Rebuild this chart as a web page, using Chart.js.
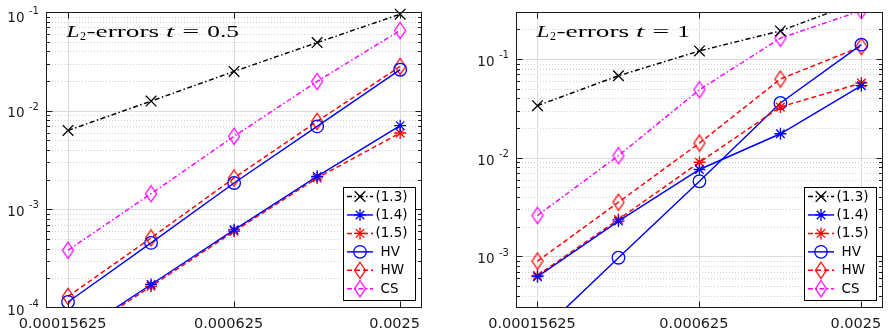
<!DOCTYPE html>
<html><head><meta charset="utf-8">
<script src="https://cdn.jsdelivr.net/npm/chart.js@4/dist/chart.umd.min.js"></script>
<style>
html,body{margin:0;padding:0;background:#fff;width:895px;height:336px;overflow:hidden}
#w1{position:absolute;left:0;top:0;width:445px;height:336px}
#w2{position:absolute;left:445px;top:0;width:450px;height:336px}
</style></head><body>
<div id="w1"><canvas id="c1" width="445" height="336"></canvas></div>
<div id="w2"><canvas id="c2" width="450" height="336"></canvas></div>
<script>
// ---- data ----
const hValues = [0.00015625, 0.0003125, 0.000625, 0.00125, 0.0025];
const xTickValues = [0.00015625, 0.000625, 0.0025];
const xTickLabels = ['0.00015625', '0.000625', '0.0025'];
const seriesNames = ['(1.3)', '(1.4)', '(1.5)', 'HV', 'HW', 'CS'];

// t = 0.5
const errT05_13 = [6.3e-3, 1.25e-2, 2.5e-2, 4.9e-2, 9.5e-2];
const errT05_14 = [4.8e-5, 1.73e-4, 6.2e-4, 2.16e-3, 7.05e-3];
const errT05_15 = [4.6e-5, 1.66e-4, 5.98e-4, 2.08e-3, 5.94e-3];
const errT05_HV = [1.15e-4, 4.57e-4, 1.85e-3, 6.93e-3, 2.6e-2];
const errT05_HW = [1.31e-4, 5.13e-4, 2.08e-3, 7.8e-3, 2.81e-2];
const errT05_CS = [3.85e-4, 1.44e-3, 5.5e-3, 1.98e-2, 6.5e-2];

// t = 1
const errT1_13 = [3.37e-2, 6.78e-2, 1.21e-1, 1.93e-1, 3.9e-1];
const errT1_14 = [6.23e-4, 2.28e-3, 7.6e-3, 1.75e-2, 5.37e-2];
const errT1_15 = [6.42e-4, 2.37e-3, 9.0e-3, 3.27e-2, 5.72e-2];
const errT1_HV = [1.6e-4, 9.7e-4, 5.78e-3, 3.59e-2, 1.40e-1];
const errT1_HW = [8.96e-4, 3.54e-3, 1.41e-2, 6.28e-2, 1.34e-1];
const errT1_CS = [2.6e-3, 1.05e-2, 4.89e-2, 1.63e-1, 3.1e-1];

const yTickValuesLeft = [1e-4, 1e-3, 1e-2, 1e-1];
const yTickExpLeft = ['-4', '-3', '-2', '-1'];
const yTickValuesRight = [1e-3, 1e-2, 1e-1];
const yTickExpRight = ['-3', '-2', '-1'];
const titleValues = ['0.5', '1'];

// ---- styles ----
function makeDiamond(color) {
  const c = document.createElement('canvas'); c.width = 14; c.height = 19;
  const g = c.getContext('2d'); g.strokeStyle = color; g.lineWidth = 1.3;
  g.beginPath(); g.moveTo(7, 1.5); g.lineTo(12.5, 9.5); g.lineTo(7, 17.5); g.lineTo(1.5, 9.5); g.closePath(); g.stroke();
  return c;
}
const BLUE = '#0000ff', RED = '#ff0000', MAG = '#ff00ff', BLK = '#000000';
const DASHDOT = [5, 2.5, 1.5, 2.5], DASH = [5, 3];
const LW = 1.45;
const seriesStyles = [
  {color: BLK, dash: DASHDOT, point: 'crossRot', r: 7.5},
  {color: BLUE, dash: [], point: 'star', r: 6},
  {color: RED, dash: DASH, point: 'star', r: 6},
  {color: BLUE, dash: [], point: 'circle', r: 6.3},
  {color: RED, dash: DASH, point: makeDiamond(RED), r: 8},
  {color: MAG, dash: DASHDOT, point: makeDiamond(MAG), r: 8}
];

function buildDatasets(vals, clip) {
  return seriesNames.map((name, i) => {
    const s = seriesStyles[i];
    return {
      label: name,
      data: hValues.map((h, j) => ({x: h, y: vals[i][j]})),
      borderColor: s.color, backgroundColor: 'rgba(0,0,0,0)',
      borderWidth: LW, borderDash: s.dash, tension: 0,
      pointStyle: s.point, pointRadius: s.r, pointHoverRadius: s.r,
      pointBorderColor: s.color, pointBackgroundColor: 'rgba(0,0,0,0)', pointBorderWidth: 1.3,
      clip: clip
    };
  });
}

function drawMarker(ctx, style, x, y, r, color) {
  ctx.save();
  ctx.strokeStyle = color; ctx.lineWidth = 1.3; ctx.setLineDash([]);
  ctx.beginPath();
  if (typeof style === 'object') {
    ctx.drawImage(style, x - style.width / 2, y - style.height / 2);
  } else if (style === 'circle') {
    ctx.arc(x, y, r, 0, Math.PI * 2);
  } else {
    const d = Math.SQRT1_2 * r;
    if (style === 'star') {
      ctx.moveTo(x - r, y); ctx.lineTo(x + r, y);
      ctx.moveTo(x, y - r); ctx.lineTo(x, y + r);
    }
    ctx.moveTo(x - d, y - d); ctx.lineTo(x + d, y + d);
    ctx.moveTo(x + d, y - d); ctx.lineTo(x - d, y + d);
  }
  ctx.stroke();
  ctx.restore();
}

function drawTitle(ctx, left, baseline, val) {
  const F = '"Liberation Serif", "DejaVu Serif", serif';
  const segs = [
    {t: 'L', f: 'italic 17.5px ' + F, x: 0, w: 13, dy: 0},
    {t: '2', f: '12px ' + F, x: 13.4, w: 6, dy: 3},
    {t: '-errors', f: '17.5px ' + F, x: 20, w: 72.7, dy: 0},
    {t: 't', f: 'italic 17.5px ' + F, x: 99.4, w: 8.3, dy: 0},
    {t: '=', f: '17.5px ' + F, x: 115.7, w: 17, dy: -0.5},
    {t: val, f: '17.5px ' + F, x: 140.7, w: null, dy: 0}
  ];
  ctx.save();
  ctx.fillStyle = '#000'; ctx.textBaseline = 'alphabetic'; ctx.textAlign = 'left';
  segs.forEach(s => {
    ctx.font = s.f;
    const m = ctx.measureText(s.t).width;
    const sx = s.w ? s.w / m : 1.45;
    ctx.save();
    ctx.translate(left + s.x, baseline + s.dy);
    ctx.scale(sx, 1);
    ctx.fillText(s.t, 0, 0);
    ctx.restore();
  });
  ctx.restore();
}

const decor = {
  id: 'decor',
  beforeDatasetsDraw(chart, args, o) {
    const {ctx, chartArea: a} = chart;
    const x = chart.scales.x, y = chart.scales.y;
    ctx.save();
    ctx.lineWidth = 1;
    const lo = Math.floor(Math.log10(y.min)), hi = Math.ceil(Math.log10(y.max));
    for (let d = lo; d <= hi; d++) for (let k = 1; k <= 9; k++) {
      const v = k * Math.pow(10, d);
      if (v <= y.min * 1.0001 || v >= y.max * 0.9999) continue;
      const py = Math.round(y.getPixelForValue(v)) + 0.5;
      ctx.beginPath();
      ctx.setLineDash(k === 1 ? [] : [1, 2]);
      ctx.strokeStyle = k === 1 ? '#dcdcdc' : '#cfcfcf';
      ctx.moveTo(a.left, py); ctx.lineTo(a.right, py); ctx.stroke();
    }
    ctx.setLineDash([]);
    ctx.strokeStyle = '#dcdcdc';
    xTickValues.forEach(v => {
      const px = Math.round(x.getPixelForValue(v)) + 0.5;
      ctx.beginPath(); ctx.moveTo(px, a.top); ctx.lineTo(px, a.bottom); ctx.stroke();
    });
    ctx.restore();
  },
  afterDatasetsDraw(chart, args, o) {
    const {ctx, chartArea: a} = chart;
    const x = chart.scales.x, y = chart.scales.y;
    ctx.save();
    ctx.setLineDash([]);
    ctx.strokeStyle = '#1a1a1a'; ctx.lineWidth = 1;
    const L = Math.round(a.left) + 0.5, R = Math.round(a.right) - 0.5;
    const T = Math.round(a.top) + 0.5, B = Math.round(a.bottom) - 0.5;
    ctx.strokeRect(L, T, R - L, B - T);
    const lo = Math.floor(Math.log10(y.min)), hi = Math.ceil(Math.log10(y.max));
    ctx.beginPath();
    for (let d = lo; d <= hi; d++) for (let k = 1; k <= 9; k++) {
      const v = k * Math.pow(10, d);
      if (v <= y.min * 1.0001 || v >= y.max * 0.9999) continue;
      const py = Math.round(y.getPixelForValue(v)) + 0.5;
      const len = k === 1 ? 6 : 3.5;
      ctx.moveTo(L, py); ctx.lineTo(L + len, py);
      ctx.moveTo(R, py); ctx.lineTo(R - len, py);
    }
    xTickValues.forEach(v => {
      const px = Math.round(x.getPixelForValue(v)) + 0.5;
      ctx.moveTo(px, B); ctx.lineTo(px, B - 6);
      ctx.moveTo(px, T); ctx.lineTo(px, T + 6);
    });
    ctx.stroke();
    ctx.fillStyle = '#1a1a1a'; ctx.textBaseline = 'middle';
    o.yTicks.forEach((v, i) => {
      const py = y.getPixelForValue(v);
      const shift = Math.max(0, (a.top + 6) - (py + 3.3));
      const xr = a.left - 21.5;
      ctx.font = '13.5px "DejaVu Sans", sans-serif';
      ctx.textAlign = 'right';
      ctx.fillText('10', xr, py + 3.3 + shift);
      ctx.font = '10px "DejaVu Sans", sans-serif';
      ctx.textAlign = 'left';
      ctx.fillText(o.yExps[i], xr + 4.5, py - 3.5 + shift);
    });
    drawTitle(ctx, a.left + 20.5, 37, o.titleValue);
    const bw = 72, bh = 113;
    const bx = Math.round(a.right - 7 - bw), by = Math.round(a.bottom - 8 - bh);
    ctx.fillStyle = '#fff'; ctx.fillRect(bx, by, bw, bh);
    ctx.strokeStyle = '#000'; ctx.lineWidth = 1;
    ctx.strokeRect(bx + 0.5, by + 0.5, bw, bh);
    chart.data.datasets.forEach((ds, i) => {
      const cy = by + 9.5 + i * 18.45;
      ctx.save();
      ctx.strokeStyle = ds.borderColor; ctx.lineWidth = ds.borderWidth;
      ctx.setLineDash(ds.borderDash || []);
      ctx.beginPath(); ctx.moveTo(bx + 4, cy); ctx.lineTo(bx + 30, cy); ctx.stroke();
      ctx.restore();
      drawMarker(ctx, ds.pointStyle, bx + 17, cy, ds.pointRadius, ds.borderColor);
      ctx.fillStyle = '#000';
      ctx.font = '13.5px "DejaVu Sans", sans-serif';
      ctx.textAlign = 'left'; ctx.textBaseline = 'middle';
      ctx.fillText(ds.label, bx + (ds.label[0] === '(' ? 32.5 : 37.5), cy + 0.5);
    });
    ctx.restore();
  }
};

function makeChart(id, vals, yMin, yMax, yAxisW, padRight, yTicks, yExps, titleValue, clip) {
  return new Chart(document.getElementById(id), {
    type: 'line',
    data: {datasets: buildDatasets(vals, clip)},
    options: {
      responsive: false, animation: false, events: [], devicePixelRatio: 1,
      layout: {padding: {top: 12, right: padRight, left: 0, bottom: 0}, autoPadding: false},
      plugins: {
        legend: {display: false}, tooltip: {enabled: false},
        decor: {yTicks: yTicks, yExps: yExps, titleValue: titleValue}
      },
      scales: {
        x: {
          type: 'logarithmic', min: 1.3e-4, max: 3e-3,
          grid: {display: false, drawTicks: false}, border: {display: false},
          afterBuildTicks: s => { s.ticks = xTickValues.map(v => ({value: v})); },
          afterFit: s => { s.height = 28; },
          ticks: {
            autoSkip: false, maxRotation: 0, minRotation: 0, padding: 8, labelOffset: -5.5,
            color: '#1a1a1a', font: {family: '"DejaVu Sans", sans-serif', size: 14.5},
            callback: (v, i) => xTickLabels[i]
          }
        },
        y: {
          type: 'logarithmic', min: yMin, max: yMax,
          grid: {display: false, drawTicks: false}, border: {display: false},
          ticks: {display: false},
          afterFit: s => { s.width = yAxisW; }
        }
      }
    },
    plugins: [decor]
  });
}

makeChart('c1', [errT05_13, errT05_14, errT05_15, errT05_HV, errT05_HW, errT05_CS],
  1e-4, 1e-1, 46, 23, yTickValuesLeft, yTickExpLeft, titleValues[0],
  {left: 0, top: 8, right: 8, bottom: 0});
makeChart('c2', [errT1_13, errT1_14, errT1_15, errT1_HV, errT1_HW, errT1_CS],
  3e-4, 0.3, 71, 4, yTickValuesRight, yTickExpRight, titleValues[1],
  {left: 0, top: 0, right: 8, bottom: 0});
</script>
</body></html>
